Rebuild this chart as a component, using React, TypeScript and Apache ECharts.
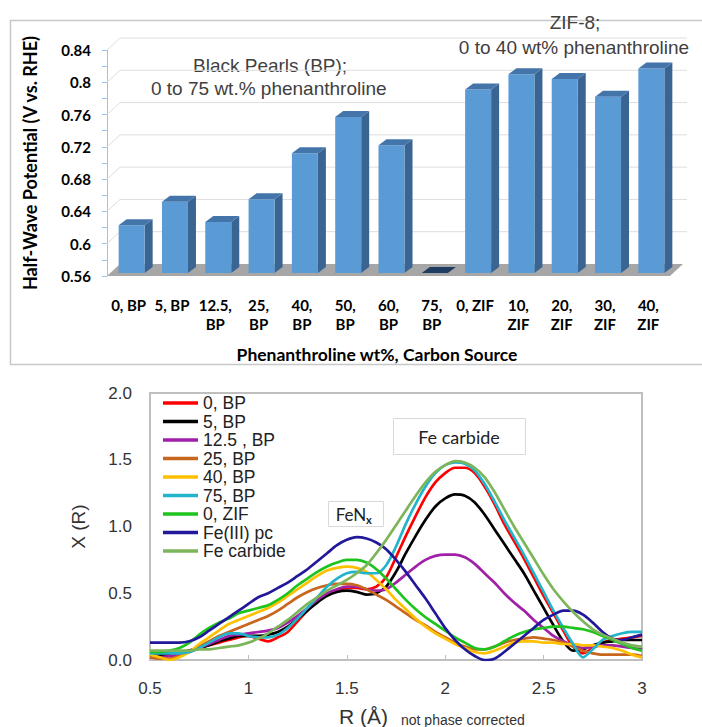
import React, { useEffect, useRef } from "react";
import * as echarts from "echarts";

// ---------- Top chart data ----------
const categories = [
  "0, BP", "5, BP", "12.5,\nBP", "25,\nBP", "40,\nBP", "50,\nBP", "60,\nBP",
  "75,\nBP", "0, ZIF", "10,\nZIF", "20,\nZIF", "30,\nZIF", "40,\nZIF",
];
const halfWavePotential = [0.623, 0.652, 0.627, 0.655, 0.712, 0.757, 0.722, 0.56, 0.791, 0.81, 0.804, 0.782, 0.817];
const topTicks = [0.56, 0.6, 0.64, 0.68, 0.72, 0.76, 0.8, 0.84];

// ---------- Bottom chart data ----------
const rValues = [
  0.5, 0.55, 0.6, 0.65, 0.7, 0.75, 0.8, 0.85, 0.9, 0.95,
  1.0, 1.05, 1.1, 1.15, 1.2, 1.25, 1.3, 1.35, 1.4, 1.45,
  1.5, 1.55, 1.6, 1.65, 1.7, 1.75, 1.8, 1.85, 1.9, 1.95,
  2.0, 2.05, 2.1, 2.15, 2.2, 2.25, 2.3, 2.35, 2.4, 2.45,
  2.5, 2.55, 2.6, 2.65, 2.7, 2.75, 2.8, 2.85, 2.9, 2.95, 3.0,
];
const bp0 = [
  0.03, 0.03, 0.04, 0.05, 0.07, 0.09, 0.11, 0.13, 0.15, 0.17,
  0.18, 0.16, 0.14, 0.17, 0.21, 0.29, 0.37, 0.44, 0.49, 0.52,
  0.54, 0.54, 0.53, 0.55, 0.62, 0.77, 0.93, 1.08, 1.22, 1.33,
  1.40, 1.44, 1.44, 1.40, 1.30, 1.17, 1.02, 0.89, 0.76, 0.62,
  0.48, 0.35, 0.22, 0.10, 0.05, 0.09, 0.13, 0.15, 0.16, 0.17, 0.18,
];
const bp5 = [
  0.04, 0.04, 0.05, 0.06, 0.07, 0.09, 0.11, 0.14, 0.16, 0.18,
  0.18, 0.18, 0.19, 0.21, 0.25, 0.31, 0.37, 0.43, 0.48, 0.51,
  0.52, 0.51, 0.49, 0.50, 0.55, 0.66, 0.80, 0.93, 1.05, 1.15,
  1.21, 1.24, 1.23, 1.18, 1.09, 0.98, 0.87, 0.76, 0.65, 0.52,
  0.39, 0.26, 0.14, 0.07, 0.08, 0.11, 0.13, 0.14, 0.15, 0.15, 0.15,
];
const bp12_5 = [
  0.02, 0.02, 0.03, 0.04, 0.06, 0.09, 0.12, 0.15, 0.18, 0.19,
  0.20, 0.21, 0.22, 0.24, 0.28, 0.33, 0.39, 0.45, 0.50, 0.53,
  0.55, 0.55, 0.53, 0.52, 0.53, 0.58, 0.64, 0.70, 0.75, 0.78,
  0.79, 0.79, 0.77, 0.72, 0.65, 0.58, 0.50, 0.43, 0.37, 0.30,
  0.24, 0.18, 0.14, 0.11, 0.09, 0.10, 0.11, 0.11, 0.10, 0.09, 0.08,
];
const bp25 = [
  0.02, 0.01, 0.01, 0.03, 0.06, 0.10, 0.14, 0.18, 0.21, 0.24,
  0.27, 0.30, 0.33, 0.37, 0.42, 0.47, 0.51, 0.54, 0.56, 0.57,
  0.57, 0.56, 0.53, 0.49, 0.45, 0.40, 0.35, 0.30, 0.26, 0.21,
  0.17, 0.13, 0.10, 0.08, 0.08, 0.10, 0.13, 0.15, 0.16, 0.17,
  0.16, 0.15, 0.13, 0.10, 0.07, 0.05, 0.04, 0.04, 0.04, 0.04, 0.03,
];
const bp40 = [
  0.04, 0.02, 0.00, 0.02, 0.06, 0.12, 0.17, 0.22, 0.27, 0.30,
  0.33, 0.36, 0.39, 0.43, 0.48, 0.53, 0.58, 0.63, 0.67, 0.69,
  0.70, 0.69, 0.66, 0.60, 0.53, 0.45, 0.38, 0.31, 0.25, 0.20,
  0.16, 0.12, 0.09, 0.06, 0.05, 0.07, 0.10, 0.13, 0.14, 0.14,
  0.13, 0.13, 0.12, 0.12, 0.11, 0.11, 0.10, 0.09, 0.07, 0.04, 0.02,
];
const bp75 = [
  0.05, 0.05, 0.05, 0.05, 0.06, 0.09, 0.13, 0.17, 0.20, 0.20,
  0.18, 0.17, 0.17, 0.19, 0.24, 0.31, 0.39, 0.47, 0.55, 0.61,
  0.65, 0.66, 0.65, 0.65, 0.71, 0.85, 1.02, 1.17, 1.30, 1.40,
  1.46, 1.48, 1.47, 1.42, 1.32, 1.19, 1.05, 0.92, 0.79, 0.65,
  0.51, 0.37, 0.24, 0.12, 0.02, 0.08, 0.15, 0.18, 0.20, 0.21, 0.21,
];
const zif0 = [
  0.06, 0.06, 0.07, 0.09, 0.13, 0.19, 0.24, 0.28, 0.31, 0.35,
  0.37, 0.39, 0.41, 0.45, 0.50, 0.56, 0.61, 0.66, 0.70, 0.73,
  0.75, 0.75, 0.73, 0.68, 0.61, 0.53, 0.45, 0.38, 0.32, 0.27,
  0.22, 0.17, 0.13, 0.09, 0.08, 0.10, 0.14, 0.18, 0.21, 0.23,
  0.24, 0.25, 0.25, 0.24, 0.23, 0.21, 0.18, 0.15, 0.12, 0.09, 0.07,
];
const fePc = [
  0.13, 0.13, 0.13, 0.13, 0.14, 0.17, 0.22, 0.27, 0.32, 0.37,
  0.42, 0.47, 0.50, 0.54, 0.58, 0.63, 0.68, 0.74, 0.80, 0.86,
  0.90, 0.92, 0.91, 0.88, 0.83, 0.75, 0.66, 0.56, 0.46, 0.35,
  0.24, 0.15, 0.08, 0.03, 0.00, 0.01, 0.06, 0.12, 0.18, 0.24,
  0.30, 0.34, 0.37, 0.37, 0.34, 0.28, 0.21, 0.16, 0.15, 0.17, 0.19,
];
const feCarbide = [
  0.07, 0.07, 0.07, 0.07, 0.07, 0.08, 0.08, 0.09, 0.10, 0.11,
  0.13, 0.16, 0.20, 0.25, 0.30, 0.36, 0.42, 0.47, 0.52, 0.56,
  0.60, 0.65, 0.71, 0.80, 0.90, 1.01, 1.12, 1.23, 1.33, 1.41,
  1.46, 1.49, 1.48, 1.44, 1.37, 1.26, 1.13, 1.00, 0.88, 0.76,
  0.64, 0.53, 0.44, 0.36, 0.29, 0.23, 0.19, 0.16, 0.13, 0.11, 0.10,
];
const seriesNames = ["0, BP", "5, BP", "12.5 , BP", "25, BP", "40, BP", "75, BP", "0, ZIF", "Fe(III) pc", "Fe carbide"];
const seriesValues = [bp0, bp5, bp12_5, bp25, bp40, bp75, zif0, fePc, feCarbide];
const seriesColors = ["#FF0000", "#000000", "#A020A8", "#C8661E", "#FFC000", "#22B4CC", "#1EC31E", "#22189A", "#7DB65A"];

const Y_MIN = 0.56;

export default function App() {
  const ref = useRef<HTMLDivElement>(null);
  useEffect(() => {
    document.body.style.margin = "0";
    const chart = echarts.init(ref.current!, undefined, { renderer: "svg" });
    const DX = 13, DY = -12; // back-wall offset
    const BDX = 8, BDY = -6; // bar depth
    const annot = "19px 'Liberation Sans'";

    const option: any = {
      animation: false,
      backgroundColor: "#ffffff",
      grid: [
        { left: 107, right: 32, top: 50, bottom: 451 },
        { left: 150, right: 60, top: 393, bottom: 67, show: true, borderColor: "#BFBFBF", borderWidth: 2, backgroundColor: "transparent" },
      ],
      xAxis: [
        {
          gridIndex: 0, type: "category", data: categories,
          axisLine: { show: false }, axisTick: { show: false },
          axisLabel: { interval: 0, margin: 19, fontFamily: "Lato", fontWeight: "bold", fontSize: 15, color: "#000", lineHeight: 19 },
        },
        {
          gridIndex: 1, type: "value", min: 0.5, max: 3, interval: 0.5,
          axisLine: { show: true, lineStyle: { color: "#BFBFBF", width: 2 } },
          axisTick: { show: true, inside: true, length: 5, lineStyle: { color: "#BFBFBF" } },
          splitLine: { show: false },
          axisLabel: { margin: 20, fontFamily: "Liberation Sans", fontSize: 17, color: "#333" },
        },
      ],
      yAxis: [
        {
          gridIndex: 0, type: "value", min: 0.56, max: 0.84, interval: 0.04,
          name: "Half-Wave Potential (V vs. RHE)", nameLocation: "middle", nameGap: 68,
          nameTextStyle: { fontFamily: "Lato", fontWeight: "bold", fontSize: 18, color: "#000" },
          axisLine: { show: true, lineStyle: { color: "#9DC3E6" } },
          axisTick: { show: true, length: 5, lineStyle: { color: "#9DC3E6" } },
          minorTick: { show: true, splitNumber: 2, length: 5, lineStyle: { color: "#9DC3E6" } },
          splitLine: { show: false },
          axisLabel: { margin: 16, fontFamily: "Lato", fontWeight: "bold", fontSize: 15, color: "#000",
            formatter: (v: number) => String(+v.toFixed(2)) },
        },
        {
          gridIndex: 1, type: "value", min: 0, max: 2, interval: 0.5,
          name: "X (R)", nameLocation: "middle", nameGap: 62,
          nameTextStyle: { fontFamily: "Liberation Sans", fontSize: 19, color: "#333" },
          axisLine: { show: false }, axisTick: { show: false }, splitLine: { show: false },
          axisLabel: { margin: 18, fontFamily: "Liberation Sans", fontSize: 17, color: "#333",
            formatter: (v: number) => v.toFixed(1) },
        },
      ],
      legend: {
        orient: "vertical", left: 163, top: 394, padding: 0, itemWidth: 35, itemHeight: 14, itemGap: 0.5,
        icon: "path://M0,6 L35,6 L35,9.5 L0,9.5 Z",
        data: seriesNames,
        textStyle: { fontFamily: "Liberation Sans", fontSize: 17.5, color: "#222", lineHeight: 16 },
      },
      graphic: [
        { type: "rect", shape: { x: 10.5, y: 20.5, width: 720, height: 344 }, style: { fill: "none", stroke: "#C8C8C8", lineWidth: 1.5 }, silent: true },
        { type: "text", left: 193, top: 56, style: { text: "Black Pearls (BP);", font: annot, fill: "#404040" } },
        { type: "text", left: 151, top: 79, style: { text: "0 to 75 wt.% phenanthroline", font: annot, fill: "#404040" } },
        { type: "text", x: 575, y: 22, style: { text: "ZIF-8;", font: annot, fill: "#404040", align: "center", verticalAlign: "middle" } },
        { type: "text", x: 574, y: 47, style: { text: "0 to 40 wt% phenanthroline", font: annot, fill: "#404040", align: "center", verticalAlign: "middle" } },
        { type: "text", x: 377, y: 354, style: { text: "Phenanthroline wt%, Carbon Source", font: "bold 17.5px Lato", fill: "#000", align: "center", verticalAlign: "middle" } },
        { type: "rect", shape: { x: 393.5, y: 418.5, width: 132, height: 36 }, style: { fill: "#fff", stroke: "#D9D9D9", lineWidth: 1 }, z: 10 },
        { type: "text", x: 459, y: 437, z: 11, style: { text: "Fe carbide", font: "18px Lato", fill: "#222", align: "center", verticalAlign: "middle" } },
        { type: "rect", shape: { x: 328.5, y: 501.5, width: 55, height: 25 }, style: { fill: "#fff", stroke: "#D9D9D9", lineWidth: 1 }, z: 10 },
        { type: "text", x: 351, y: 514, z: 11, style: { text: "FeN", font: "17px Lato", fill: "#222", align: "center", verticalAlign: "middle" } },
        { type: "text", x: 366, y: 519, z: 11, style: { text: "x", font: "bold 11px Lato", fill: "#222", align: "left", verticalAlign: "middle" } },
        { type: "text", x: 339, y: 716, style: { text: "R (Å)", font: "21px 'Liberation Sans'", fill: "#333", align: "left", verticalAlign: "middle" } },
        { type: "text", x: 401, y: 720, style: { text: "not phase corrected", font: "14px 'Liberation Sans'", fill: "#333", align: "left", verticalAlign: "middle" } },
      ],
      series: [
        {
          type: "custom", name: "wall", xAxisIndex: 0, yAxisIndex: 0, silent: true, z: 1,
          data: topTicks.map((t) => [0, t]),
          encode: { x: 0, y: 1 },
          renderItem: (params: any, api: any) => {
            const cs = params.coordSys;
            const v = api.value(1);
            const y = api.coord([0, v])[1];
            const x0 = cs.x;
            const x1 = cs.x + cs.width;
            if (v <= Y_MIN + 1e-9) {
              return {
                type: "polygon",
                shape: { points: [[x0, y], [x1, y], [x1 + DX, y + DY], [x0 + DX, y + DY]] },
                style: { fill: "#A6A6A6" },
              };
            }
            return {
              type: "polyline",
              shape: { points: [[x0, y], [x0 + DX, y + DY], [x1 + DX + 4, y + DY]] },
              style: { stroke: "#DEDEDE", lineWidth: 1, fill: "none" },
            };
          },
        },
        {
          type: "custom", name: "Half-wave", xAxisIndex: 0, yAxisIndex: 0, z: 3,
          data: halfWavePotential.map((v, i) => [i, v]),
          encode: { x: 0, y: 1 },
          renderItem: (params: any, api: any) => {
            const idx = api.value(0);
            const v = api.value(1);
            const c = api.coord([idx, v]);
            const base = api.coord([idx, Y_MIN]);
            const x0 = c[0] - 10;
            const x1 = c[0] + 16;
            const yb = base[1] - 3;
            const yt = Math.min(c[1], yb);
            const flat = yb - yt < 0.5;
            return {
              type: "group",
              children: [
                { type: "polygon", shape: { points: [[x1, yb], [x1 + BDX, yb + BDY], [x1 + BDX, yt + BDY], [x1, yt]] }, style: { fill: "#3A6491" } },
                { type: "rect", shape: { x: x0, y: yt, width: x1 - x0, height: yb - yt }, style: { fill: "#5B9BD5" } },
                { type: "polygon", shape: { points: [[x0, yt], [x1, yt], [x1 + BDX, yt + BDY], [x0 + BDX, yt + BDY]] }, style: { fill: flat ? "#1F3D60" : "#4475AA" } },
              ],
            };
          },
        },
        ...seriesNames.map((name, k) => ({
          type: "line", name, xAxisIndex: 1, yAxisIndex: 1,
          data: rValues.map((r, i) => [r, seriesValues[k][i]]),
          showSymbol: false, symbol: "none", smooth: 0.3,
          lineStyle: { color: seriesColors[k], width: 2.7 },
          itemStyle: { color: seriesColors[k] },
          z: 5,
        })),
      ],
    };
    chart.setOption(option);
    return () => chart.dispose();
  }, []);
  return <div ref={ref} style={{ width: 702, height: 727 }} />;
}
